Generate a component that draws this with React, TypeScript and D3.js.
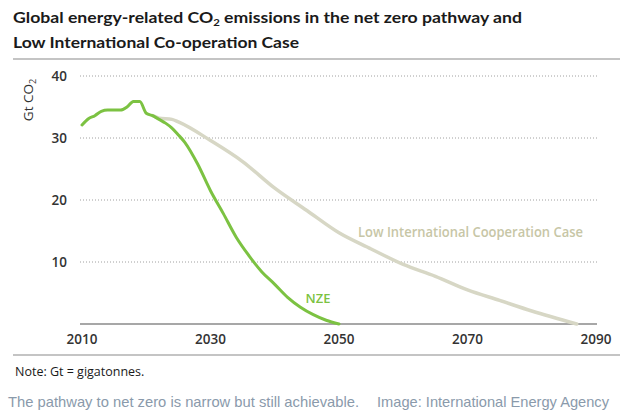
import * as d3 from "d3"

// NZE pathway (Gt CO2)
const nzeYears = [2010, 2011, 2012, 2013, 2014, 2015, 2016, 2017, 2018, 2019, 2020, 2021, 2022, 2023, 2024, 2025, 2026, 2028, 2030, 2032, 2034, 2036, 2038, 2040, 2042, 2044, 2046, 2048, 2050]
const nzeValues = [32.1, 33.1, 33.6, 34.3, 34.5, 34.5, 34.5, 35.0, 35.9, 35.9, 34.0, 33.6, 33.0, 32.4, 31.6, 30.5, 29.3, 25.8, 21.5, 17.8, 14.0, 11.0, 8.4, 6.4, 4.3, 2.7, 1.5, 0.6, 0]

// Low International Co-operation Case
const licYears = [2021, 2022, 2024, 2025, 2030, 2035, 2040, 2045, 2050, 2055, 2060, 2065, 2070, 2075, 2080, 2087]
const licValues = [33.6, 33.2, 33.0, 32.6, 29.6, 26.2, 21.9, 18.3, 14.7, 12.1, 9.6, 7.7, 5.5, 3.8, 2.1, 0]

const yTicks = [10, 20, 30, 40]
const xTicks = [2010, 2030, 2050, 2070, 2090]

const W = 630
const H = 418

const App = () => {
  const x = d3.scaleLinear().domain([2010, 2090]).range([82, 596])
  const y = d3.scaleLinear().domain([0, 40]).range([324, 76])

  const line = d3
    .line<[number, number]>()
    .x((d) => x(d[0]))
    .y((d) => y(d[1]))
    .curve(d3.curveMonotoneX)

  const nze = nzeYears.map((yr, i) => [yr, nzeValues[i]] as [number, number])
  const lic = licYears.map((yr, i) => [yr, licValues[i]] as [number, number])

  const axisFont = "Open Sans, Lato, sans-serif"

  return (
    <svg width={W} height={H} style={{ position: "absolute", left: 0, top: 0, background: "#fff" }}>
      {/* title */}
      <g fontFamily="Lato, 'Open Sans', sans-serif" fontWeight={700} fill="#1a1a1a" fontSize={15.5}>
        <text x={13} y={23} textLength={509} lengthAdjust="spacingAndGlyphs">
          Global energy-related CO<tspan fontSize={10} dy={3}>2</tspan>
          <tspan dy={-3}> emissions in the net zero pathway and</tspan>
        </text>
        <text x={13} y={48} textLength={286} lengthAdjust="spacingAndGlyphs">
          Low International Co-operation Case
        </text>
      </g>
      <line x1={13} x2={620} y1={59} y2={59} stroke="#8a8a8a" strokeWidth={1.2} />

      {/* y axis label */}
      <text
        transform="translate(33,100) rotate(-90)"
        textAnchor="middle"
        fontFamily={axisFont}
        fontSize={13.5}
        fill="#333"
      >
        Gt CO<tspan fontSize={9} dy={3}>2</tspan>
      </text>

      {/* gridlines + y tick labels */}
      {yTicks.map((t) => (
        <g key={t}>
          <line x1={80} x2={597} y1={y(t)} y2={y(t)} stroke="#a0a0a0" strokeWidth={1} strokeDasharray="1,2" />
          <text
            x={67}
            y={y(t)}
            dy="0.35em"
            textAnchor="end"
            fontFamily={axisFont}
            fontWeight={600}
            fontSize={13.5}
            fill="#333"
          >
            {t}
          </text>
        </g>
      ))}

      {/* x axis */}
      <line x1={80} x2={597} y1={y(0)} y2={y(0)} stroke="#8a8a8a" strokeWidth={1.5} />
      {xTicks.map((t) => (
        <text
          key={t}
          x={x(t)}
          y={339}
          dy="0.35em"
          textAnchor="middle"
          fontFamily={axisFont}
          fontWeight={600}
          fontSize={13.5}
          fill="#333"
        >
          {t}
        </text>
      ))}

      {/* series */}
      <path d={line(lic) || ""} fill="none" stroke="#d7d7c5" strokeWidth={3.5} strokeLinejoin="round" strokeLinecap="round" />
      <path d={line(nze) || ""} fill="none" stroke="#7cc242" strokeWidth={3} strokeLinejoin="round" strokeLinecap="round" />

      {/* series labels */}
      <text x={358} y={232} dy="0.35em" fontFamily={axisFont} fontWeight={600} fontSize={13.5} fill="#c7c6a6" textLength={225} lengthAdjust="spacingAndGlyphs">
        Low International Cooperation Case
      </text>
      <text x={318} y={298} dy="0.35em" textAnchor="middle" fontFamily={axisFont} fontWeight={600} fontSize={13} fill="#7cc242">
        NZE
      </text>

      {/* bottom rule + note */}
      <line x1={13} x2={620} y1={355} y2={355} stroke="#8a8a8a" strokeWidth={1.2} />
      <text x={15} y={372} dy="0.35em" fontFamily={axisFont} fontSize={12.5} fill="#1a1a1a">
        Note: Gt = gigatonnes.
      </text>

      {/* caption */}
      <g fontFamily="Liberation Sans, Arial, sans-serif" fontSize={14.6} fill="#8a9aab">
        <text x={8} y={402} dy="0.35em" textLength={351} lengthAdjust="spacingAndGlyphs">
          The pathway to net zero is narrow but still achievable.
        </text>
        <text x={377} y={402} dy="0.35em" textLength={232} lengthAdjust="spacingAndGlyphs">
          Image: International Energy Agency
        </text>
      </g>
    </svg>
  )
}

export default App
